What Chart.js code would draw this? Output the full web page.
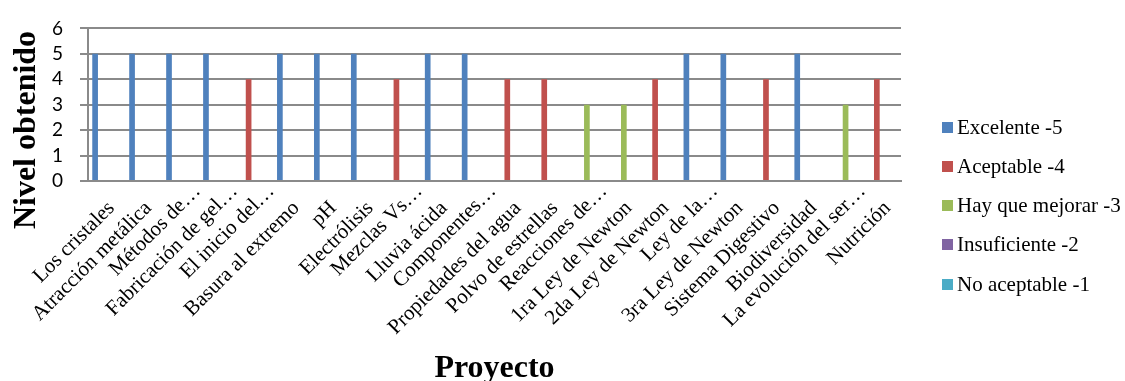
<!DOCTYPE html>
<html>
<head>
<meta charset="utf-8">
<script src="https://cdn.jsdelivr.net/npm/chart.js@4/dist/chart.umd.min.js"></script>
<style>
  html, body { margin: 0; padding: 0; background: #ffffff; }
  #wrap { position: relative; width: 1125px; height: 381px; }
</style>
</head>
<body>
<div id="wrap"><canvas id="chart" width="1125" height="381"></canvas></div>
<script>
// Projects (category axis)
const categories = [
  'Los cristales', 'Atracción metálica', 'Métodos de…', 'Fabricación de gel…',
  'El inicio del…', 'Basura al extremo', 'pH', 'Electrólisis', 'Mezclas Vs…',
  'Lluvia ácida', 'Componentes…', 'Propiedades del agua', 'Polvo de estrellas',
  'Reacciones de…', '1ra Ley de Newton', '2da Ley de Newton', 'Ley de la…',
  '3ra Ley de Newton', 'Sistema Digestivo', 'Biodiversidad',
  'La evolución del ser…', 'Nutrición'
];

// Level reached by each project, one array per rating
const excelente     = [5, 5, 5, 5, null, 5, 5, 5, null, 5, 5, null, null, null, null, null, 5, 5, null, 5, null, null];
const aceptable     = [null, null, null, null, 4, null, null, null, 4, null, null, 4, 4, null, null, 4, null, null, 4, null, null, 4];
const hayQueMejorar = [null, null, null, null, null, null, null, null, null, null, null, null, null, 3, 3, null, null, null, null, null, 3, null];
const insuficiente  = [null, null, null, null, null, null, null, null, null, null, null, null, null, null, null, null, null, null, null, null, null, null];
const noAceptable   = [null, null, null, null, null, null, null, null, null, null, null, null, null, null, null, null, null, null, null, null, null, null];

const seriesLabels = ['Excelente -5', 'Aceptable -4', 'Hay que mejorar -3', 'Insuficiente -2', 'No aceptable -1'];
const seriesColors = ['#4F81BD', '#C0504D', '#9BBB59', '#8064A2', '#4BACC6'];
const yMin = 0;
const yMax = 6;
const yStep = 1;

const xTitle = 'Proyecto';
const yTitle = 'Nivel obtenido';

const gridColor = '#8a8a8a';
const serif = '"Liberation Serif", "Times New Roman", serif';

// Slanted category names under the axis; shortened names (ending in "…")
// sit a little further along their slant
const categoryLabels = {
  id: 'categoryLabels',
  afterDraw(chart) {
    const xs = chart.scales.x;
    const ctx = chart.ctx;
    ctx.save();
    ctx.fillStyle = '#000';
    ctx.font = '21px ' + serif;
    ctx.textAlign = 'right';
    ctx.textBaseline = 'middle';
    chart.data.labels.forEach((label, i) => {
      const x = xs.getPixelForValue(i);
      const cut = label.endsWith('…');
      ctx.save();
      ctx.translate(x + (cut ? 17 : 5), xs.top + (cut ? 7 : 24));
      ctx.rotate(-Math.PI / 4);
      ctx.fillText(label, 0, 0);
      ctx.restore();
    });
    ctx.restore();
  }
};

// Axis titles
const axisTitles = {
  id: 'axisTitles',
  afterDraw(chart) {
    const ctx = chart.ctx;
    ctx.save();
    ctx.fillStyle = '#000';
    ctx.font = 'bold 32px ' + serif;
    ctx.textAlign = 'center';
    ctx.textBaseline = 'alphabetic';
    const area = chart.chartArea;
    ctx.fillText(xTitle, (area.left + area.right) / 2, 377);
    ctx.translate(35, 130);
    ctx.rotate(-Math.PI / 2);
    ctx.fillText(yTitle, 0, 0);
    ctx.restore();
  }
};

// Legend column to the right of the plot
const sideLegend = {
  id: 'sideLegend',
  afterDraw(chart) {
    const ctx = chart.ctx;
    ctx.save();
    ctx.font = '21px ' + serif;
    ctx.textAlign = 'left';
    ctx.textBaseline = 'middle';
    chart.data.datasets.forEach((ds, i) => {
      const cy = 127 + i * 39.3;
      ctx.fillStyle = ds.backgroundColor;
      ctx.fillRect(942, Math.round(cy - 5.5), 11, 11);
      ctx.fillStyle = '#000';
      ctx.fillText(ds.label, 957, cy + 1);
    });
    ctx.restore();
  }
};

const seriesData = [excelente, aceptable, hayQueMejorar, insuficiente, noAceptable];

new Chart(document.getElementById('chart'), {
  type: 'bar',
  data: {
    labels: categories,
    datasets: seriesData.map((values, i) => ({
      label: seriesLabels[i],
      data: values,
      backgroundColor: seriesColors[i],
      borderWidth: 0,
      categoryPercentage: 5 / 6.5,
      barPercentage: 1
    }))
  },
  options: {
    responsive: false,
    animation: false,
    devicePixelRatio: 1,
    layout: { padding: { top: 23, right: 224, bottom: 0, left: 0 } },
    plugins: {
      legend: { display: false },
      tooltip: { enabled: false },
      title: { display: false }
    },
    scales: {
      x: {
        grid: { display: false, drawTicks: false },
        border: { display: true, color: gridColor, width: 2 },
        ticks: { display: false },
        afterFit(scale) { scale.height = 200; }
      },
      y: {
        min: yMin,
        max: yMax,
        grid: {
          color: gridColor,
          lineWidth: 2,
          drawTicks: true,
          tickLength: 8,
          tickColor: gridColor
        },
        border: { display: true, color: gridColor, width: 2 },
        ticks: {
          stepSize: yStep,
          autoSkip: false,
          padding: 17,
          color: '#000',
          font: { family: 'Lato, "Liberation Sans", sans-serif', size: 19 }
        },
        afterFit(scale) { scale.width = 88; }
      }
    }
  },
  plugins: [categoryLabels, axisTitles, sideLegend]
});
</script>
</body>
</html>
